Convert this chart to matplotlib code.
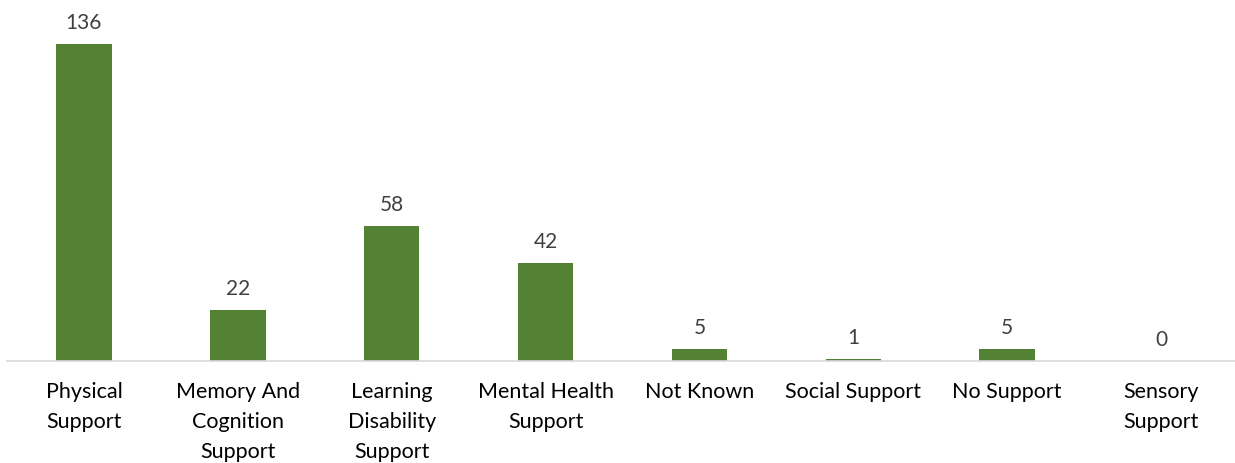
import matplotlib.pyplot as plt

# support categories and counts
categories = ['Physical\nSupport', 'Memory And\nCognition\nSupport',
              'Learning\nDisability\nSupport', 'Mental Health\nSupport',
              'Not Known', 'Social Support', 'No Support', 'Sensory\nSupport']
counts = [136, 22, 58, 42, 5, 1, 5, 0]

plt.rcParams['font.family'] = ['Lato', 'DejaVu Sans']

fig = plt.figure(figsize=(12.35, 4.63), dpi=100)
ax = fig.add_axes([7 / 1235, 102 / 463, 1231 / 1235, 361 / 463])

x = range(len(categories))
bars = ax.bar(x, counts, width=0.36, color='#548235')

for b, v in zip(bars, counts):
    ax.annotate(str(v), (b.get_x() + b.get_width() / 2, v),
                xytext=(0, 8), textcoords='offset points',
                ha='center', va='bottom', fontsize=15, color='#404040')

ax.set_xlim(-0.5, len(categories) - 0.5)
ax.set_ylim(0, 155)
ax.set_xticks(list(x))
ax.set_xticklabels(categories, fontsize=15.5, color='#000000', linespacing=1.62, va='top')
ax.tick_params(axis='x', length=0, pad=15)
ax.set_yticks([])
for s in ['top', 'right', 'left']:
    ax.spines[s].set_visible(False)
ax.spines['bottom'].set_color('#d9d9d9')
ax.spines['bottom'].set_linewidth(1.2)

fig.savefig('out.png', dpi=100)
